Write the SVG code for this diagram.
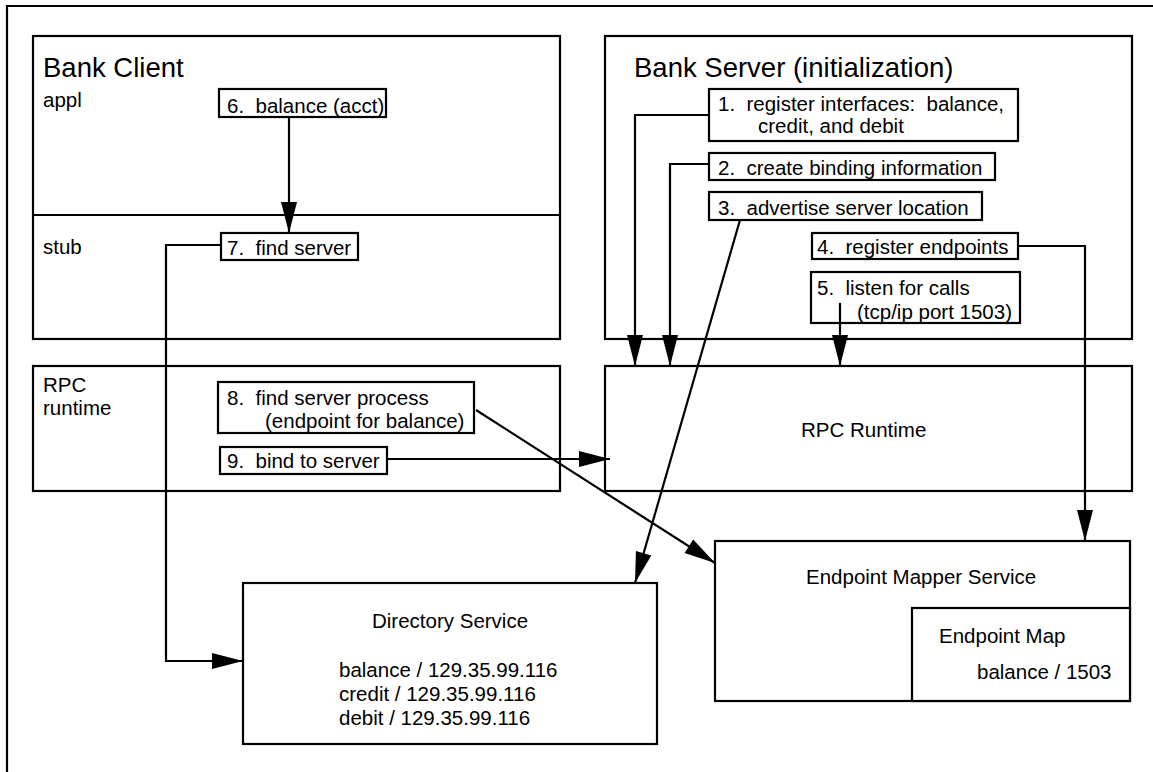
<svg xmlns="http://www.w3.org/2000/svg" width="1153" height="772" viewBox="0 0 1153 772" xml:space="preserve">
  <style>
    .box { fill: #fff; stroke: #000; stroke-width: 2.2; }
    .frame { fill: none; stroke: #000; stroke-width: 2.2; }
    .line { fill: none; stroke: #000; stroke-width: 2.2; }
    .arrow { marker-end: url(#head); }
    text { font-family: "Liberation Sans", Arial, Helvetica, sans-serif; font-size: 20.5px; fill: #000; white-space: pre; }
    .title { font-size: 27.5px; }
  </style>
  <defs>
    <marker id="head" markerUnits="userSpaceOnUse" markerWidth="32" markerHeight="18" refX="31" refY="8" orient="auto" overflow="visible">
      <path d="M0,0 L31,8 L0,16 z" fill="#000"/>
    </marker>
  </defs>

  <rect width="1153" height="772" fill="#fff"/>

  <!-- outer border (top and left edges) -->
  <path class="frame" d="M7,772 V6 H1153"/>

  <!-- client process -->
  <g id="bank-client">
    <rect class="box" x="33" y="36" width="527" height="303"/>
    <line class="line" x1="33" y1="215" x2="560" y2="215"/>
    <text class="title" x="43" y="77">Bank Client</text>
    <text x="43" y="107">appl</text>
    <text x="43" y="254">stub</text>
  </g>

  <g id="client-runtime">
    <rect class="box" x="33" y="366" width="527" height="125"/>
    <text x="43" y="392">RPC</text>
    <text x="43" y="415">runtime</text>
  </g>

  <!-- server process -->
  <g id="bank-server">
    <rect class="box" x="605" y="36" width="527" height="303"/>
    <text class="title" x="634" y="77">Bank Server (initialization)</text>
  </g>

  <g id="server-runtime">
    <rect class="box" x="605" y="366" width="527" height="125"/>
    <text x="801" y="437">RPC Runtime</text>
  </g>

  <!-- name and endpoint services -->
  <g id="directory-service">
    <rect class="box" x="243" y="583" width="414" height="161"/>
    <text x="372" y="628">Directory Service</text>
    <text x="339" y="677">balance / 129.35.99.116</text>
    <text x="339" y="701">credit / 129.35.99.116</text>
    <text x="339" y="725">debit / 129.35.99.116</text>
  </g>

  <g id="endpoint-mapper">
    <rect class="box" x="715" y="541" width="415" height="160"/>
    <text x="806" y="584">Endpoint Mapper Service</text>
  </g>

  <g id="endpoint-map">
    <rect class="box" x="912" y="608" width="218" height="93"/>
    <text x="939" y="643">Endpoint Map</text>
    <text x="977" y="679">balance / 1503</text>
  </g>

  <!-- numbered steps -->
  <g id="step-1">
    <rect class="box" x="709" y="89" width="309" height="52"/>
    <text x="718" y="111">1.  register interfaces:  balance,</text>
    <text x="758" y="133">credit, and debit</text>
  </g>
  <g id="step-2">
    <rect class="box" x="709" y="153" width="286" height="27"/>
    <text x="718" y="175">2.  create binding information</text>
  </g>
  <g id="step-3">
    <rect class="box" x="709" y="192" width="273" height="28"/>
    <text x="718" y="215">3.  advertise server location</text>
  </g>
  <g id="step-4">
    <rect class="box" x="812" y="233" width="206" height="26"/>
    <text x="817" y="254">4.  register endpoints</text>
  </g>
  <g id="step-5">
    <rect class="box" x="811" y="272" width="209" height="51"/>
    <text x="817" y="295">5.  listen for calls</text>
    <text x="857" y="319">(tcp/ip port 1503)</text>
  </g>
  <g id="step-6">
    <rect class="box" x="219" y="89" width="167" height="28"/>
    <text x="227" y="113">6.  balance (acct)</text>
  </g>
  <g id="step-7">
    <rect class="box" x="221" y="233" width="137" height="27"/>
    <text x="227" y="255">7.  find server</text>
  </g>
  <g id="step-8">
    <rect class="box" x="218" y="382" width="256" height="51"/>
    <text x="227" y="405">8.  find server process</text>
    <text x="265" y="428">(endpoint for balance)</text>
  </g>
  <g id="step-9">
    <rect class="box" x="220" y="447" width="167" height="27"/>
    <text x="227" y="468">9.  bind to server</text>
  </g>

  <!-- connectors -->
  <g id="connectors">
    <polyline class="line arrow" points="709,115 635,115 635,366"/>
    <polyline class="line arrow" points="709,164 670,164 670,366"/>
    <line class="line arrow" x1="740" y1="220" x2="635" y2="583"/>
    <polyline class="line arrow" points="1018,246 1085,246 1085,541"/>
    <line class="line arrow" x1="840" y1="303" x2="840" y2="366"/>
    <line class="line arrow" x1="289" y1="117" x2="289" y2="233"/>
    <polyline class="line arrow" points="221,245 166,245 166,661 243,661"/>
    <line class="line arrow" x1="476" y1="410" x2="715" y2="563"/>
    <line class="line arrow" x1="387" y1="459" x2="610" y2="459"/>
  </g>
</svg>
